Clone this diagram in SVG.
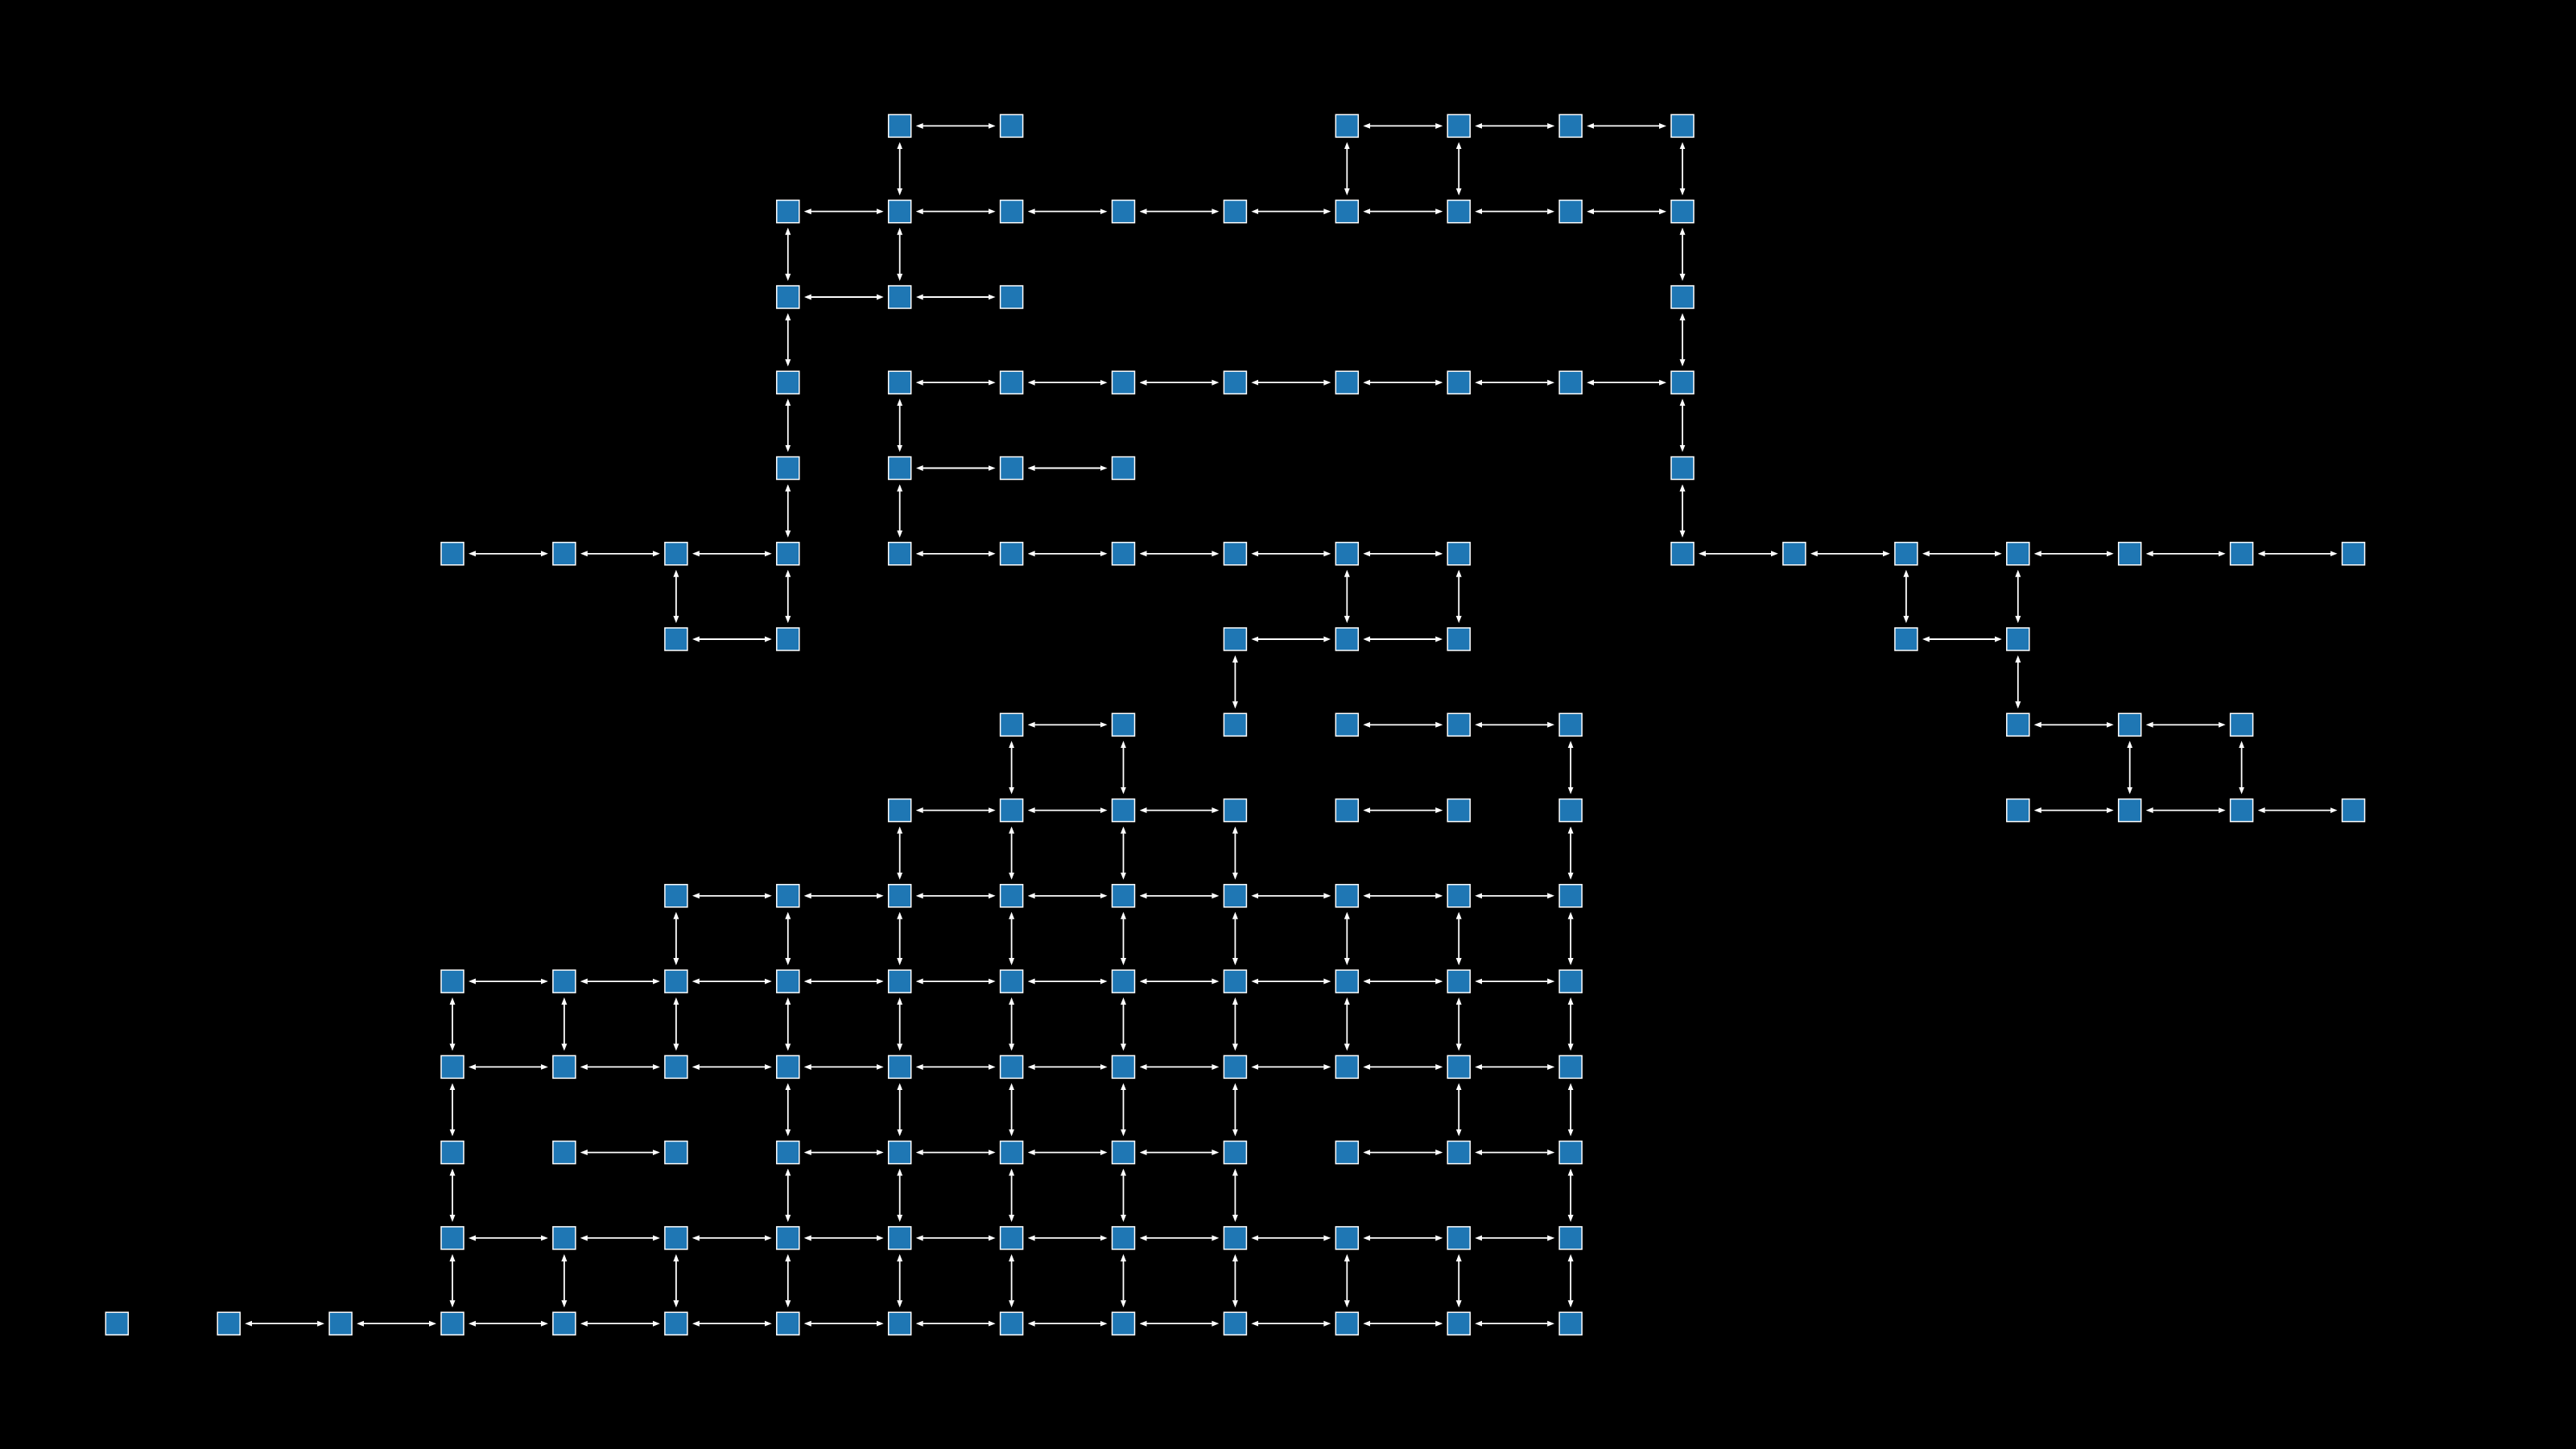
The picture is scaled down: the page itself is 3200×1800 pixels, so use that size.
<svg xmlns="http://www.w3.org/2000/svg" width="3200" height="1800" viewBox="0 0 3200 1800">
<defs>
<style>
.n{fill:#1f77b4;stroke:#ffffff;stroke-width:1.5}
.e line{stroke:#ffffff;stroke-width:1.8;fill:none;marker-start:url(#ah);marker-end:url(#ah)}
</style>
<marker id="ah" viewBox="0 -4 9 8" refX="0.5" refY="0" markerWidth="9" markerHeight="8" markerUnits="userSpaceOnUse" orient="auto-start-reverse"><path d="M0,-3.5 L9,0 L0,3.5 z" fill="#ffffff"/></marker>
<rect id="box" class="n" x="-14" y="-14" width="28" height="28"/>
</defs>
<rect x="0" y="0" width="3200" height="1800" fill="#000000"/>
<g id="connectors" class="e">
<g transform="translate(0,156.4)"><line x1="1146.2" x2="1228.1"/><line x1="1701.8" x2="1783.7"/><line x1="1840.7" x2="1922.6"/><line x1="1979.6" x2="2061.5"/></g>
<g transform="translate(0,262.7)"><line x1="1007.3" x2="1089.2"/><line x1="1146.2" x2="1228.1"/><line x1="1285.1" x2="1367.0"/><line x1="1424.0" x2="1505.9"/><line x1="1562.9" x2="1644.8"/><line x1="1701.8" x2="1783.7"/><line x1="1840.7" x2="1922.6"/><line x1="1979.6" x2="2061.5"/></g>
<g transform="translate(0,369.0)"><line x1="1007.3" x2="1089.2"/><line x1="1146.2" x2="1228.1"/></g>
<g transform="translate(0,475.2)"><line x1="1146.2" x2="1228.1"/><line x1="1285.1" x2="1367.0"/><line x1="1424.0" x2="1505.9"/><line x1="1562.9" x2="1644.8"/><line x1="1701.8" x2="1783.7"/><line x1="1840.7" x2="1922.6"/><line x1="1979.6" x2="2061.5"/></g>
<g transform="translate(0,581.5)"><line x1="1146.2" x2="1228.1"/><line x1="1285.1" x2="1367.0"/></g>
<g transform="translate(0,687.8)"><line x1="590.5" x2="672.4"/><line x1="729.4" x2="811.4"/><line x1="868.4" x2="950.3"/><line x1="1146.2" x2="1228.1"/><line x1="1285.1" x2="1367.0"/><line x1="1424.0" x2="1505.9"/><line x1="1562.9" x2="1644.8"/><line x1="1701.8" x2="1783.7"/><line x1="2118.5" x2="2200.4"/><line x1="2257.4" x2="2339.4"/><line x1="2396.4" x2="2478.3"/><line x1="2535.3" x2="2617.2"/><line x1="2674.2" x2="2756.1"/><line x1="2813.1" x2="2895.0"/></g>
<g transform="translate(0,794.0)"><line x1="868.4" x2="950.3"/><line x1="1562.9" x2="1644.8"/><line x1="1701.8" x2="1783.7"/><line x1="2396.4" x2="2478.3"/></g>
<g transform="translate(0,900.3)"><line x1="1285.1" x2="1367.0"/><line x1="1701.8" x2="1783.7"/><line x1="1840.7" x2="1922.6"/><line x1="2535.3" x2="2617.2"/><line x1="2674.2" x2="2756.1"/></g>
<g transform="translate(0,1006.6)"><line x1="1146.2" x2="1228.1"/><line x1="1285.1" x2="1367.0"/><line x1="1424.0" x2="1505.9"/><line x1="1701.8" x2="1783.7"/><line x1="2535.3" x2="2617.2"/><line x1="2674.2" x2="2756.1"/><line x1="2813.1" x2="2895.0"/></g>
<g transform="translate(0,1112.8)"><line x1="868.4" x2="950.3"/><line x1="1007.3" x2="1089.2"/><line x1="1146.2" x2="1228.1"/><line x1="1285.1" x2="1367.0"/><line x1="1424.0" x2="1505.9"/><line x1="1562.9" x2="1644.8"/><line x1="1701.8" x2="1783.7"/><line x1="1840.7" x2="1922.6"/></g>
<g transform="translate(0,1219.1)"><line x1="590.5" x2="672.4"/><line x1="729.4" x2="811.4"/><line x1="868.4" x2="950.3"/><line x1="1007.3" x2="1089.2"/><line x1="1146.2" x2="1228.1"/><line x1="1285.1" x2="1367.0"/><line x1="1424.0" x2="1505.9"/><line x1="1562.9" x2="1644.8"/><line x1="1701.8" x2="1783.7"/><line x1="1840.7" x2="1922.6"/></g>
<g transform="translate(0,1325.4)"><line x1="590.5" x2="672.4"/><line x1="729.4" x2="811.4"/><line x1="868.4" x2="950.3"/><line x1="1007.3" x2="1089.2"/><line x1="1146.2" x2="1228.1"/><line x1="1285.1" x2="1367.0"/><line x1="1424.0" x2="1505.9"/><line x1="1562.9" x2="1644.8"/><line x1="1701.8" x2="1783.7"/><line x1="1840.7" x2="1922.6"/></g>
<g transform="translate(0,1431.6)"><line x1="729.4" x2="811.4"/><line x1="1007.3" x2="1089.2"/><line x1="1146.2" x2="1228.1"/><line x1="1285.1" x2="1367.0"/><line x1="1424.0" x2="1505.9"/><line x1="1701.8" x2="1783.7"/><line x1="1840.7" x2="1922.6"/></g>
<g transform="translate(0,1537.9)"><line x1="590.5" x2="672.4"/><line x1="729.4" x2="811.4"/><line x1="868.4" x2="950.3"/><line x1="1007.3" x2="1089.2"/><line x1="1146.2" x2="1228.1"/><line x1="1285.1" x2="1367.0"/><line x1="1424.0" x2="1505.9"/><line x1="1562.9" x2="1644.8"/><line x1="1701.8" x2="1783.7"/><line x1="1840.7" x2="1922.6"/></g>
<g transform="translate(0,1644.2)"><line x1="312.7" x2="394.6"/><line x1="451.6" x2="533.5"/><line x1="590.5" x2="672.4"/><line x1="729.4" x2="811.4"/><line x1="868.4" x2="950.3"/><line x1="1007.3" x2="1089.2"/><line x1="1146.2" x2="1228.1"/><line x1="1285.1" x2="1367.0"/><line x1="1424.0" x2="1505.9"/><line x1="1562.9" x2="1644.8"/><line x1="1701.8" x2="1783.7"/><line x1="1840.7" x2="1922.6"/></g>
<g transform="translate(562.0,0)"><line y1="1247.6" y2="1296.9"/><line y1="1353.9" y2="1403.1"/><line y1="1460.1" y2="1509.4"/><line y1="1566.4" y2="1615.7"/></g>
<g transform="translate(700.9,0)"><line y1="1247.6" y2="1296.9"/><line y1="1566.4" y2="1615.7"/></g>
<g transform="translate(839.9,0)"><line y1="716.3" y2="765.5"/><line y1="1141.3" y2="1190.6"/><line y1="1247.6" y2="1296.9"/><line y1="1566.4" y2="1615.7"/></g>
<g transform="translate(978.8,0)"><line y1="291.2" y2="340.5"/><line y1="397.5" y2="446.7"/><line y1="503.7" y2="553.0"/><line y1="610.0" y2="659.3"/><line y1="716.3" y2="765.5"/><line y1="1141.3" y2="1190.6"/><line y1="1247.6" y2="1296.9"/><line y1="1353.9" y2="1403.1"/><line y1="1460.1" y2="1509.4"/><line y1="1566.4" y2="1615.7"/></g>
<g transform="translate(1117.7,0)"><line y1="184.9" y2="234.2"/><line y1="291.2" y2="340.5"/><line y1="503.7" y2="553.0"/><line y1="610.0" y2="659.3"/><line y1="1035.1" y2="1084.3"/><line y1="1141.3" y2="1190.6"/><line y1="1247.6" y2="1296.9"/><line y1="1353.9" y2="1403.1"/><line y1="1460.1" y2="1509.4"/><line y1="1566.4" y2="1615.7"/></g>
<g transform="translate(1256.6,0)"><line y1="928.8" y2="978.1"/><line y1="1035.1" y2="1084.3"/><line y1="1141.3" y2="1190.6"/><line y1="1247.6" y2="1296.9"/><line y1="1353.9" y2="1403.1"/><line y1="1460.1" y2="1509.4"/><line y1="1566.4" y2="1615.7"/></g>
<g transform="translate(1395.5,0)"><line y1="928.8" y2="978.1"/><line y1="1035.1" y2="1084.3"/><line y1="1141.3" y2="1190.6"/><line y1="1247.6" y2="1296.9"/><line y1="1353.9" y2="1403.1"/><line y1="1460.1" y2="1509.4"/><line y1="1566.4" y2="1615.7"/></g>
<g transform="translate(1534.4,0)"><line y1="822.5" y2="871.8"/><line y1="1035.1" y2="1084.3"/><line y1="1141.3" y2="1190.6"/><line y1="1247.6" y2="1296.9"/><line y1="1353.9" y2="1403.1"/><line y1="1460.1" y2="1509.4"/><line y1="1566.4" y2="1615.7"/></g>
<g transform="translate(1673.3,0)"><line y1="184.9" y2="234.2"/><line y1="716.3" y2="765.5"/><line y1="1141.3" y2="1190.6"/><line y1="1247.6" y2="1296.9"/><line y1="1566.4" y2="1615.7"/></g>
<g transform="translate(1812.2,0)"><line y1="184.9" y2="234.2"/><line y1="716.3" y2="765.5"/><line y1="1141.3" y2="1190.6"/><line y1="1247.6" y2="1296.9"/><line y1="1353.9" y2="1403.1"/><line y1="1566.4" y2="1615.7"/></g>
<g transform="translate(1951.1,0)"><line y1="928.8" y2="978.1"/><line y1="1035.1" y2="1084.3"/><line y1="1141.3" y2="1190.6"/><line y1="1247.6" y2="1296.9"/><line y1="1353.9" y2="1403.1"/><line y1="1460.1" y2="1509.4"/><line y1="1566.4" y2="1615.7"/></g>
<g transform="translate(2090.0,0)"><line y1="184.9" y2="234.2"/><line y1="291.2" y2="340.5"/><line y1="397.5" y2="446.7"/><line y1="503.7" y2="553.0"/><line y1="610.0" y2="659.3"/></g>
<g transform="translate(2367.9,0)"><line y1="716.3" y2="765.5"/></g>
<g transform="translate(2506.8,0)"><line y1="716.3" y2="765.5"/><line y1="822.5" y2="871.8"/></g>
<g transform="translate(2645.7,0)"><line y1="928.8" y2="978.1"/></g>
<g transform="translate(2784.6,0)"><line y1="928.8" y2="978.1"/></g>
</g>
<g id="nodes">
<g id="n7_0" transform="translate(1117.7,156.4)"><use href="#box"/></g>
<g id="n8_0" transform="translate(1256.6,156.4)"><use href="#box"/></g>
<g id="n11_0" transform="translate(1673.3,156.4)"><use href="#box"/></g>
<g id="n12_0" transform="translate(1812.2,156.4)"><use href="#box"/></g>
<g id="n13_0" transform="translate(1951.1,156.4)"><use href="#box"/></g>
<g id="n14_0" transform="translate(2090.0,156.4)"><use href="#box"/></g>
<g id="n6_1" transform="translate(978.8,262.7)"><use href="#box"/></g>
<g id="n7_1" transform="translate(1117.7,262.7)"><use href="#box"/></g>
<g id="n8_1" transform="translate(1256.6,262.7)"><use href="#box"/></g>
<g id="n9_1" transform="translate(1395.5,262.7)"><use href="#box"/></g>
<g id="n10_1" transform="translate(1534.4,262.7)"><use href="#box"/></g>
<g id="n11_1" transform="translate(1673.3,262.7)"><use href="#box"/></g>
<g id="n12_1" transform="translate(1812.2,262.7)"><use href="#box"/></g>
<g id="n13_1" transform="translate(1951.1,262.7)"><use href="#box"/></g>
<g id="n14_1" transform="translate(2090.0,262.7)"><use href="#box"/></g>
<g id="n6_2" transform="translate(978.8,369.0)"><use href="#box"/></g>
<g id="n7_2" transform="translate(1117.7,369.0)"><use href="#box"/></g>
<g id="n8_2" transform="translate(1256.6,369.0)"><use href="#box"/></g>
<g id="n14_2" transform="translate(2090.0,369.0)"><use href="#box"/></g>
<g id="n6_3" transform="translate(978.8,475.2)"><use href="#box"/></g>
<g id="n7_3" transform="translate(1117.7,475.2)"><use href="#box"/></g>
<g id="n8_3" transform="translate(1256.6,475.2)"><use href="#box"/></g>
<g id="n9_3" transform="translate(1395.5,475.2)"><use href="#box"/></g>
<g id="n10_3" transform="translate(1534.4,475.2)"><use href="#box"/></g>
<g id="n11_3" transform="translate(1673.3,475.2)"><use href="#box"/></g>
<g id="n12_3" transform="translate(1812.2,475.2)"><use href="#box"/></g>
<g id="n13_3" transform="translate(1951.1,475.2)"><use href="#box"/></g>
<g id="n14_3" transform="translate(2090.0,475.2)"><use href="#box"/></g>
<g id="n6_4" transform="translate(978.8,581.5)"><use href="#box"/></g>
<g id="n7_4" transform="translate(1117.7,581.5)"><use href="#box"/></g>
<g id="n8_4" transform="translate(1256.6,581.5)"><use href="#box"/></g>
<g id="n9_4" transform="translate(1395.5,581.5)"><use href="#box"/></g>
<g id="n14_4" transform="translate(2090.0,581.5)"><use href="#box"/></g>
<g id="n3_5" transform="translate(562.0,687.8)"><use href="#box"/></g>
<g id="n4_5" transform="translate(700.9,687.8)"><use href="#box"/></g>
<g id="n5_5" transform="translate(839.9,687.8)"><use href="#box"/></g>
<g id="n6_5" transform="translate(978.8,687.8)"><use href="#box"/></g>
<g id="n7_5" transform="translate(1117.7,687.8)"><use href="#box"/></g>
<g id="n8_5" transform="translate(1256.6,687.8)"><use href="#box"/></g>
<g id="n9_5" transform="translate(1395.5,687.8)"><use href="#box"/></g>
<g id="n10_5" transform="translate(1534.4,687.8)"><use href="#box"/></g>
<g id="n11_5" transform="translate(1673.3,687.8)"><use href="#box"/></g>
<g id="n12_5" transform="translate(1812.2,687.8)"><use href="#box"/></g>
<g id="n14_5" transform="translate(2090.0,687.8)"><use href="#box"/></g>
<g id="n15_5" transform="translate(2228.9,687.8)"><use href="#box"/></g>
<g id="n16_5" transform="translate(2367.9,687.8)"><use href="#box"/></g>
<g id="n17_5" transform="translate(2506.8,687.8)"><use href="#box"/></g>
<g id="n18_5" transform="translate(2645.7,687.8)"><use href="#box"/></g>
<g id="n19_5" transform="translate(2784.6,687.8)"><use href="#box"/></g>
<g id="n20_5" transform="translate(2923.5,687.8)"><use href="#box"/></g>
<g id="n5_6" transform="translate(839.9,794.0)"><use href="#box"/></g>
<g id="n6_6" transform="translate(978.8,794.0)"><use href="#box"/></g>
<g id="n10_6" transform="translate(1534.4,794.0)"><use href="#box"/></g>
<g id="n11_6" transform="translate(1673.3,794.0)"><use href="#box"/></g>
<g id="n12_6" transform="translate(1812.2,794.0)"><use href="#box"/></g>
<g id="n16_6" transform="translate(2367.9,794.0)"><use href="#box"/></g>
<g id="n17_6" transform="translate(2506.8,794.0)"><use href="#box"/></g>
<g id="n8_7" transform="translate(1256.6,900.3)"><use href="#box"/></g>
<g id="n9_7" transform="translate(1395.5,900.3)"><use href="#box"/></g>
<g id="n10_7" transform="translate(1534.4,900.3)"><use href="#box"/></g>
<g id="n11_7" transform="translate(1673.3,900.3)"><use href="#box"/></g>
<g id="n12_7" transform="translate(1812.2,900.3)"><use href="#box"/></g>
<g id="n13_7" transform="translate(1951.1,900.3)"><use href="#box"/></g>
<g id="n17_7" transform="translate(2506.8,900.3)"><use href="#box"/></g>
<g id="n18_7" transform="translate(2645.7,900.3)"><use href="#box"/></g>
<g id="n19_7" transform="translate(2784.6,900.3)"><use href="#box"/></g>
<g id="n7_8" transform="translate(1117.7,1006.6)"><use href="#box"/></g>
<g id="n8_8" transform="translate(1256.6,1006.6)"><use href="#box"/></g>
<g id="n9_8" transform="translate(1395.5,1006.6)"><use href="#box"/></g>
<g id="n10_8" transform="translate(1534.4,1006.6)"><use href="#box"/></g>
<g id="n11_8" transform="translate(1673.3,1006.6)"><use href="#box"/></g>
<g id="n12_8" transform="translate(1812.2,1006.6)"><use href="#box"/></g>
<g id="n13_8" transform="translate(1951.1,1006.6)"><use href="#box"/></g>
<g id="n17_8" transform="translate(2506.8,1006.6)"><use href="#box"/></g>
<g id="n18_8" transform="translate(2645.7,1006.6)"><use href="#box"/></g>
<g id="n19_8" transform="translate(2784.6,1006.6)"><use href="#box"/></g>
<g id="n20_8" transform="translate(2923.5,1006.6)"><use href="#box"/></g>
<g id="n5_9" transform="translate(839.9,1112.8)"><use href="#box"/></g>
<g id="n6_9" transform="translate(978.8,1112.8)"><use href="#box"/></g>
<g id="n7_9" transform="translate(1117.7,1112.8)"><use href="#box"/></g>
<g id="n8_9" transform="translate(1256.6,1112.8)"><use href="#box"/></g>
<g id="n9_9" transform="translate(1395.5,1112.8)"><use href="#box"/></g>
<g id="n10_9" transform="translate(1534.4,1112.8)"><use href="#box"/></g>
<g id="n11_9" transform="translate(1673.3,1112.8)"><use href="#box"/></g>
<g id="n12_9" transform="translate(1812.2,1112.8)"><use href="#box"/></g>
<g id="n13_9" transform="translate(1951.1,1112.8)"><use href="#box"/></g>
<g id="n3_10" transform="translate(562.0,1219.1)"><use href="#box"/></g>
<g id="n4_10" transform="translate(700.9,1219.1)"><use href="#box"/></g>
<g id="n5_10" transform="translate(839.9,1219.1)"><use href="#box"/></g>
<g id="n6_10" transform="translate(978.8,1219.1)"><use href="#box"/></g>
<g id="n7_10" transform="translate(1117.7,1219.1)"><use href="#box"/></g>
<g id="n8_10" transform="translate(1256.6,1219.1)"><use href="#box"/></g>
<g id="n9_10" transform="translate(1395.5,1219.1)"><use href="#box"/></g>
<g id="n10_10" transform="translate(1534.4,1219.1)"><use href="#box"/></g>
<g id="n11_10" transform="translate(1673.3,1219.1)"><use href="#box"/></g>
<g id="n12_10" transform="translate(1812.2,1219.1)"><use href="#box"/></g>
<g id="n13_10" transform="translate(1951.1,1219.1)"><use href="#box"/></g>
<g id="n3_11" transform="translate(562.0,1325.4)"><use href="#box"/></g>
<g id="n4_11" transform="translate(700.9,1325.4)"><use href="#box"/></g>
<g id="n5_11" transform="translate(839.9,1325.4)"><use href="#box"/></g>
<g id="n6_11" transform="translate(978.8,1325.4)"><use href="#box"/></g>
<g id="n7_11" transform="translate(1117.7,1325.4)"><use href="#box"/></g>
<g id="n8_11" transform="translate(1256.6,1325.4)"><use href="#box"/></g>
<g id="n9_11" transform="translate(1395.5,1325.4)"><use href="#box"/></g>
<g id="n10_11" transform="translate(1534.4,1325.4)"><use href="#box"/></g>
<g id="n11_11" transform="translate(1673.3,1325.4)"><use href="#box"/></g>
<g id="n12_11" transform="translate(1812.2,1325.4)"><use href="#box"/></g>
<g id="n13_11" transform="translate(1951.1,1325.4)"><use href="#box"/></g>
<g id="n3_12" transform="translate(562.0,1431.6)"><use href="#box"/></g>
<g id="n4_12" transform="translate(700.9,1431.6)"><use href="#box"/></g>
<g id="n5_12" transform="translate(839.9,1431.6)"><use href="#box"/></g>
<g id="n6_12" transform="translate(978.8,1431.6)"><use href="#box"/></g>
<g id="n7_12" transform="translate(1117.7,1431.6)"><use href="#box"/></g>
<g id="n8_12" transform="translate(1256.6,1431.6)"><use href="#box"/></g>
<g id="n9_12" transform="translate(1395.5,1431.6)"><use href="#box"/></g>
<g id="n10_12" transform="translate(1534.4,1431.6)"><use href="#box"/></g>
<g id="n11_12" transform="translate(1673.3,1431.6)"><use href="#box"/></g>
<g id="n12_12" transform="translate(1812.2,1431.6)"><use href="#box"/></g>
<g id="n13_12" transform="translate(1951.1,1431.6)"><use href="#box"/></g>
<g id="n3_13" transform="translate(562.0,1537.9)"><use href="#box"/></g>
<g id="n4_13" transform="translate(700.9,1537.9)"><use href="#box"/></g>
<g id="n5_13" transform="translate(839.9,1537.9)"><use href="#box"/></g>
<g id="n6_13" transform="translate(978.8,1537.9)"><use href="#box"/></g>
<g id="n7_13" transform="translate(1117.7,1537.9)"><use href="#box"/></g>
<g id="n8_13" transform="translate(1256.6,1537.9)"><use href="#box"/></g>
<g id="n9_13" transform="translate(1395.5,1537.9)"><use href="#box"/></g>
<g id="n10_13" transform="translate(1534.4,1537.9)"><use href="#box"/></g>
<g id="n11_13" transform="translate(1673.3,1537.9)"><use href="#box"/></g>
<g id="n12_13" transform="translate(1812.2,1537.9)"><use href="#box"/></g>
<g id="n13_13" transform="translate(1951.1,1537.9)"><use href="#box"/></g>
<g id="n0_14" transform="translate(145.3,1644.2)"><use href="#box"/></g>
<g id="n1_14" transform="translate(284.2,1644.2)"><use href="#box"/></g>
<g id="n2_14" transform="translate(423.1,1644.2)"><use href="#box"/></g>
<g id="n3_14" transform="translate(562.0,1644.2)"><use href="#box"/></g>
<g id="n4_14" transform="translate(700.9,1644.2)"><use href="#box"/></g>
<g id="n5_14" transform="translate(839.9,1644.2)"><use href="#box"/></g>
<g id="n6_14" transform="translate(978.8,1644.2)"><use href="#box"/></g>
<g id="n7_14" transform="translate(1117.7,1644.2)"><use href="#box"/></g>
<g id="n8_14" transform="translate(1256.6,1644.2)"><use href="#box"/></g>
<g id="n9_14" transform="translate(1395.5,1644.2)"><use href="#box"/></g>
<g id="n10_14" transform="translate(1534.4,1644.2)"><use href="#box"/></g>
<g id="n11_14" transform="translate(1673.3,1644.2)"><use href="#box"/></g>
<g id="n12_14" transform="translate(1812.2,1644.2)"><use href="#box"/></g>
<g id="n13_14" transform="translate(1951.1,1644.2)"><use href="#box"/></g>
</g>
</svg>
